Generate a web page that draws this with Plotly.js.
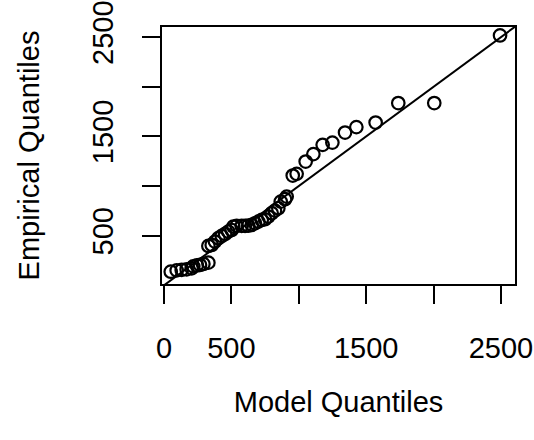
<!DOCTYPE html>
<html>
<head>
<meta charset="utf-8">
<script src="https://cdn.plot.ly/plotly-3.0.1.min.js"></script>
<style>html,body{margin:0;padding:0;background:#fff;}#chart{width:534px;height:440px;}</style>
</head>
<body>
<div id="chart"></div>
<script>
// Model (theoretical) quantiles, sorted
const modelQ = [50, 94, 131, 168, 205, 217, 243, 267, 292, 329,
                329, 354, 378, 403, 428, 453, 477, 502, 514, 539,
                576, 601, 625, 651, 675, 700, 725, 749, 774, 799,
                823, 848, 866, 898, 910,
                955, 984, 1051, 1108, 1177, 1249, 1343, 1427, 1570, 1738, 2005, 2493];
// Empirical quantiles, sorted
const empQ = [137, 150, 155, 160, 170, 190, 200, 205, 215, 228,
              396, 406, 440, 474, 497, 517, 540, 557, 591, 598,
              598, 598, 600, 608, 625, 641, 658, 665, 692, 726,
              752, 776, 843, 867, 893,
              1105, 1122, 1246, 1321, 1414, 1437, 1538, 1593, 1639, 1835, 1835, 2516];

const xRange = [-15, 2604];
const yRange = [13, 2601];
const xTicks = [0, 500, 1000, 1500, 2000, 2500];
const xTickText = ['0', '500', '', '1500', '', '2500'];
const yTicks = [500, 1000, 1500, 2000, 2500];
const yTickText = ['500', '', '1500', '', '2500'];

// y = x reference line spanning the x-axis range
const refX = [xRange[0], xRange[1]];
const refY = refX.slice();

const traces = [
  {x: refX, y: refY, type: 'scatter', mode: 'lines',
   line: {color: 'black', width: 2}, hoverinfo: 'skip'},
  {x: modelQ, y: empQ, type: 'scatter', mode: 'markers',
   marker: {symbol: 'circle-open', size: 12.5, color: 'black', line: {width: 2.2, color: 'black'}}}
];

const fontFam = 'Liberation Sans, Arial, Helvetica, sans-serif';
const fs = 29;
const layout = {
  width: 534, height: 440,
  margin: {l: 162, r: 19, t: 27, b: 156, pad: 0},
  paper_bgcolor: 'white', plot_bgcolor: 'white',
  showlegend: false,
  font: {family: fontFam, size: fs, color: 'black'},
  xaxis: {
    range: xRange, tickmode: 'array', tickvals: xTicks, ticktext: xTickText,
    ticks: 'outside', ticklen: 18, tickwidth: 2, tickcolor: 'black',
    showline: true, mirror: true, linewidth: 2, linecolor: 'black',
    showgrid: false, zeroline: false, automargin: false,
    ticklabelstandoff: 19, ticklabeloverflow: 'allow',
    tickfont: {family: fontFam, size: fs, color: 'black'},
    title: {text: 'Model Quantiles', standoff: 29, font: {family: fontFam, size: fs, color: 'black'}}
  },
  yaxis: {
    range: yRange, tickmode: 'array', tickvals: yTicks, ticktext: yTickText,
    ticks: 'outside', ticklen: 18, tickwidth: 2, tickcolor: 'black',
    showline: true, mirror: true, linewidth: 2, linecolor: 'black',
    showgrid: false, zeroline: false, automargin: false,
    tickangle: -90, ticklabelstandoff: 17, ticklabeloverflow: 'allow',
    tickfont: {family: fontFam, size: fs, color: 'black'},
    title: {text: 'Empirical Quantiles', standoff: 39, font: {family: fontFam, size: fs, color: 'black'}}
  }
};

Plotly.newPlot('chart', traces, layout, {staticPlot: true, displayModeBar: false});
</script>
</body>
</html>
